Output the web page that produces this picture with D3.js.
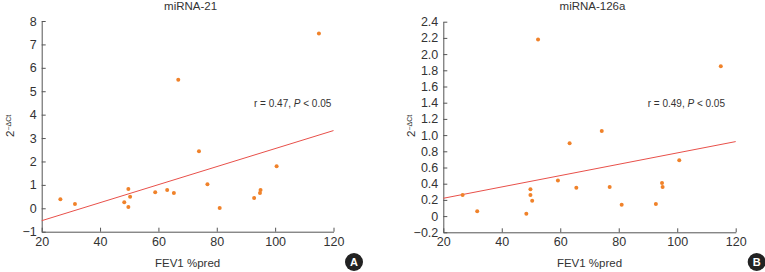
<!DOCTYPE html>
<html>
<head>
<meta charset="utf-8">
<script src="https://cdn.jsdelivr.net/npm/d3@7"></script>
<style>
  body { margin: 0; background: #fff; }
  svg { font-family: "Liberation Sans", Arial, sans-serif; }
  .tick text { fill: #333; font-size: 12.5px; }
  .domain, .tick line { stroke: #555; }
</style>
</head>
<body>
<svg id="chart" width="765" height="272"></svg>
<script>
// FEV1 %pred values and miRNA-21 expression
const fev21 = [26.4, 31.4, 48.3, 49.7, 50.3, 49.7, 58.9, 63.0, 65.3, 66.8, 73.9, 76.8, 81.0, 92.8, 94.8, 95.0, 100.5, 115.0];
const mir21 = [0.39, 0.18, 0.26, 0.82, 0.49, 0.06, 0.68, 0.78, 0.65, 5.49, 2.44, 1.03, 0.01, 0.44, 0.65, 0.78, 1.80, 7.47];
const fit21X = [20, 120];
const fit21Y = [-0.53, 3.32];
const ticks21 = [-1, 0, 1, 2, 3, 4, 5, 6, 7, 8];

// FEV1 %pred values and miRNA-126a expression
const fev126 = [26.6, 31.6, 48.4, 49.8, 49.8, 50.4, 52.4, 59.2, 63.2, 65.5, 74.2, 76.9, 81.0, 92.7, 94.8, 95.0, 100.7, 114.9];
const mir126 = [0.26, 0.06, 0.03, 0.33, 0.26, 0.19, 2.18, 0.44, 0.90, 0.35, 1.05, 0.36, 0.14, 0.15, 0.41, 0.36, 0.69, 1.85];
const fit126X = [20, 120];
const fit126Y = [0.22, 0.92];
const ticks126 = [-0.2, 0, 0.2, 0.4, 0.6, 0.8, 1.0, 1.2, 1.4, 1.6, 1.8, 2.0, 2.2, 2.4];

const xTicks = [20, 40, 60, 80, 100, 120];

const svg = d3.select("#chart");

function panel(opt) {
  const x = d3.scaleLinear().domain([20, 120]).range([opt.left, opt.right]);
  const y = d3.scaleLinear().domain(opt.yDomain).range([opt.bottom, opt.top]);
  const g = svg.append("g");

  g.append("g")
    .attr("transform", `translate(0,${opt.bottom})`)
    .call(d3.axisBottom(x).tickValues(xTicks).tickSize(-4).tickPadding(5).tickSizeOuter(0));

  g.append("g")
    .attr("transform", `translate(${opt.left},0)`)
    .call(d3.axisLeft(y).tickValues(opt.yTicks).tickFormat(opt.fmt)
      .tickSize(-4).tickPadding(5).tickSizeOuter(0));

  // minus sign instead of hyphen
  g.selectAll(".tick text").text(function () { return d3.select(this).text().replace("-", "\u2212"); });

  const line = d3.line().x(d => x(d[0])).y(d => y(d[1]));
  g.append("path")
    .datum(d3.zip(opt.fitX, opt.fitY))
    .attr("d", line)
    .attr("fill", "none")
    .attr("stroke", "#e8504a")
    .attr("stroke-width", 1);

  g.selectAll("circle.pt")
    .data(d3.zip(opt.xs, opt.ys))
    .join("circle")
    .attr("class", "pt")
    .attr("cx", d => x(d[0]))
    .attr("cy", d => y(d[1]))
    .attr("r", 2)
    .attr("fill", "#f0822a");

  g.append("text")
    .attr("x", (opt.left + opt.right) / 2 + 3)
    .attr("y", 10)
    .attr("text-anchor", "middle")
    .attr("font-size", 11.5)
    .attr("fill", "#333")
    .text(opt.title);

  g.append("text")
    .attr("x", (opt.left + opt.right) / 2)
    .attr("y", 267)
    .attr("text-anchor", "middle")
    .attr("font-size", 11.5)
    .attr("fill", "#333")
    .text("FEV1 %pred");

  const ann = g.append("text")
    .attr("x", opt.annX)
    .attr("y", 107)
    .attr("font-size", 10)
    .attr("fill", "#333");
  ann.append("tspan").text(opt.ann + ", ");
  ann.append("tspan").attr("font-style", "italic").text("P");
  ann.append("tspan").text(" < 0.05");

  const yl = g.append("text")
    .attr("transform", `translate(${opt.left - 28},${opt.labelY}) rotate(-90)`)
    .attr("font-size", 11.5)
    .attr("fill", "#333");
  yl.append("tspan").text("2");
  yl.append("tspan").attr("font-size", 7).attr("dy", -3).text("\u2212\u0394Ct");

  const badge = g.append("g").attr("transform", `translate(${opt.badgeX},262)`);
  badge.append("circle").attr("r", 9).attr("fill", "#222");
  badge.append("text")
    .attr("text-anchor", "middle")
    .attr("dy", "0.36em")
    .attr("font-size", 11)
    .attr("font-weight", "bold")
    .attr("fill", "#fff")
    .text(opt.badge);
}

panel({
  left: 41.7, right: 333.5, top: 21, bottom: 231.7,
  yDomain: [-1, 8], yTicks: ticks21, fmt: d3.format("d"),
  xs: fev21, ys: mir21, fitX: fit21X, fitY: fit21Y,
  title: "miRNA-21", ann: "r = 0.47", annX: 254, labelY: 137,
  badge: "A", badgeX: 354
});

panel({
  left: 443.3, right: 735.7, top: 21.7, bottom: 232.3,
  yDomain: [-0.2, 2.4], yTicks: ticks126, fmt: d => d === 0 ? "0" : d3.format(".1f")(d),
  xs: fev126, ys: mir126, fitX: fit126X, fitY: fit126Y,
  title: "miRNA-126a", ann: "r = 0.49", annX: 647.7, labelY: 137,
  badge: "B", badgeX: 756.7
});
</script>
</body>
</html>
